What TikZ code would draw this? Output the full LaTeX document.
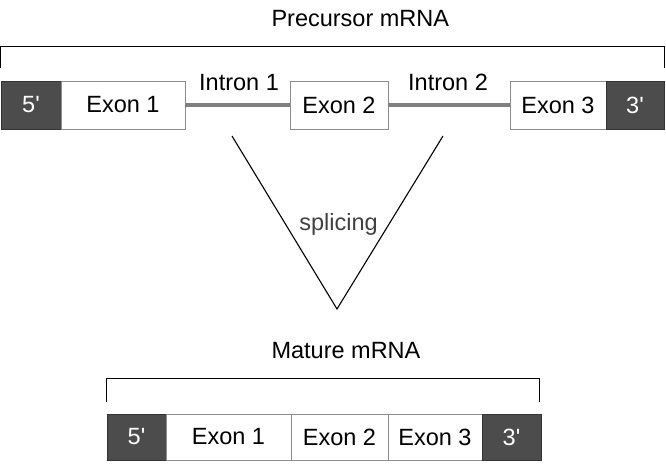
\documentclass[tikz,border=0pt]{standalone}
\usepackage{fontspec}
\setmainfont{Liberation Sans}
\usepackage{tikz}
\usetikzlibrary{positioning, calc}
\usepackage{xcolor}
\definecolor{capgray}{rgb}{0.3, 0.3, 0.3}
\definecolor{edgegray}{rgb}{0.55, 0.55, 0.55}
\definecolor{introngray}{rgb}{0.5, 0.5, 0.5}
\definecolor{labelgray}{rgb}{0.25, 0.25, 0.25}

\begin{document}
\begin{tikzpicture}[
				x=1pt, y=-1pt,
				every node/.style={font=\fontsize{23.5}{27}\selectfont},
				exonbox/.style={draw=edgegray, line width=0.9pt, fill=white, inner sep=0pt, align=center},
				capbox/.style={draw=black!80, line width=0.9pt, fill=capgray, text=white, inner sep=0pt, align=center},
				intronline/.style={introngray, line width=3.3pt},
				bracketline/.style={black, line width=1.2pt},
				vline/.style={black, line width=1.1pt}
			]
			\useasboundingbox (0,0) rectangle (666,463);

			% Precursor row
			\node[capbox, minimum width=60pt, minimum height=48pt] (cap5a) at (31,105) {5\textquotesingle};
			\node[exonbox, minimum width=124pt, minimum height=48pt] (exon1a) at (123,105) {Exon 1};
			\node[exonbox, minimum width=98pt, minimum height=48pt] (exon2a) at (339,105) {Exon 2};
			\node[exonbox, minimum width=96pt, minimum height=48pt] (exon3a) at (558,105) {Exon 3};
			\node[capbox, minimum width=58pt, minimum height=48pt] (cap3a) at (635,105) {3\textquotesingle};

			% Introns
			\draw[intronline] (exon1a.east) -- (exon2a.west);
			\draw[intronline] (exon2a.east) -- (exon3a.west);
			\node[anchor=base] (intron1) at (239,90) {Intron 1};
			\node[anchor=base] (intron2) at (448,90) {Intron 2};

			% Precursor bracket and title
			\node[anchor=base west] (precursor) at (268,26) {Precursor mRNA};
			\draw[bracketline] ($(cap5a.north west)+(0,-13)$) -- ++(0,-21) -| ($(cap3a.north east)+(0,-13)$);

			% Splicing wedge
			\coordinate (vleft) at (232,136);
			\coordinate (vtip) at (337,309);
			\coordinate (vright) at (443,136);
			\draw[vline] (vleft) -- (vtip) -- (vright);
			\node[anchor=base, text=labelgray] (splicing) at (338.5,230) {splicing};

			% Mature row
			\node[capbox, minimum width=59pt, minimum height=46pt] (cap5b) at (136.5,437) {5\textquotesingle};
			\node[exonbox, minimum width=125pt, minimum height=46pt] (exon1b) at (228.5,437) {Exon 1};
			\node[exonbox, minimum width=97pt, minimum height=46pt] (exon2b) at (339.5,437) {Exon 2};
			\node[exonbox, minimum width=94pt, minimum height=46pt] (exon3b) at (435,437) {Exon 3};
			\node[capbox, minimum width=59pt, minimum height=46pt] (cap3b) at (511.5,437) {3\textquotesingle};

			% Mature bracket and title
			\node[anchor=base west] (mature) at (268,358) {Mature mRNA};
			\draw[bracketline] ($(cap5b.north west)+(0,-12)$) -- ++(0,-23) -| ($(cap3b.north east)+(-2,-12)$);

		\end{tikzpicture}
\end{document}
